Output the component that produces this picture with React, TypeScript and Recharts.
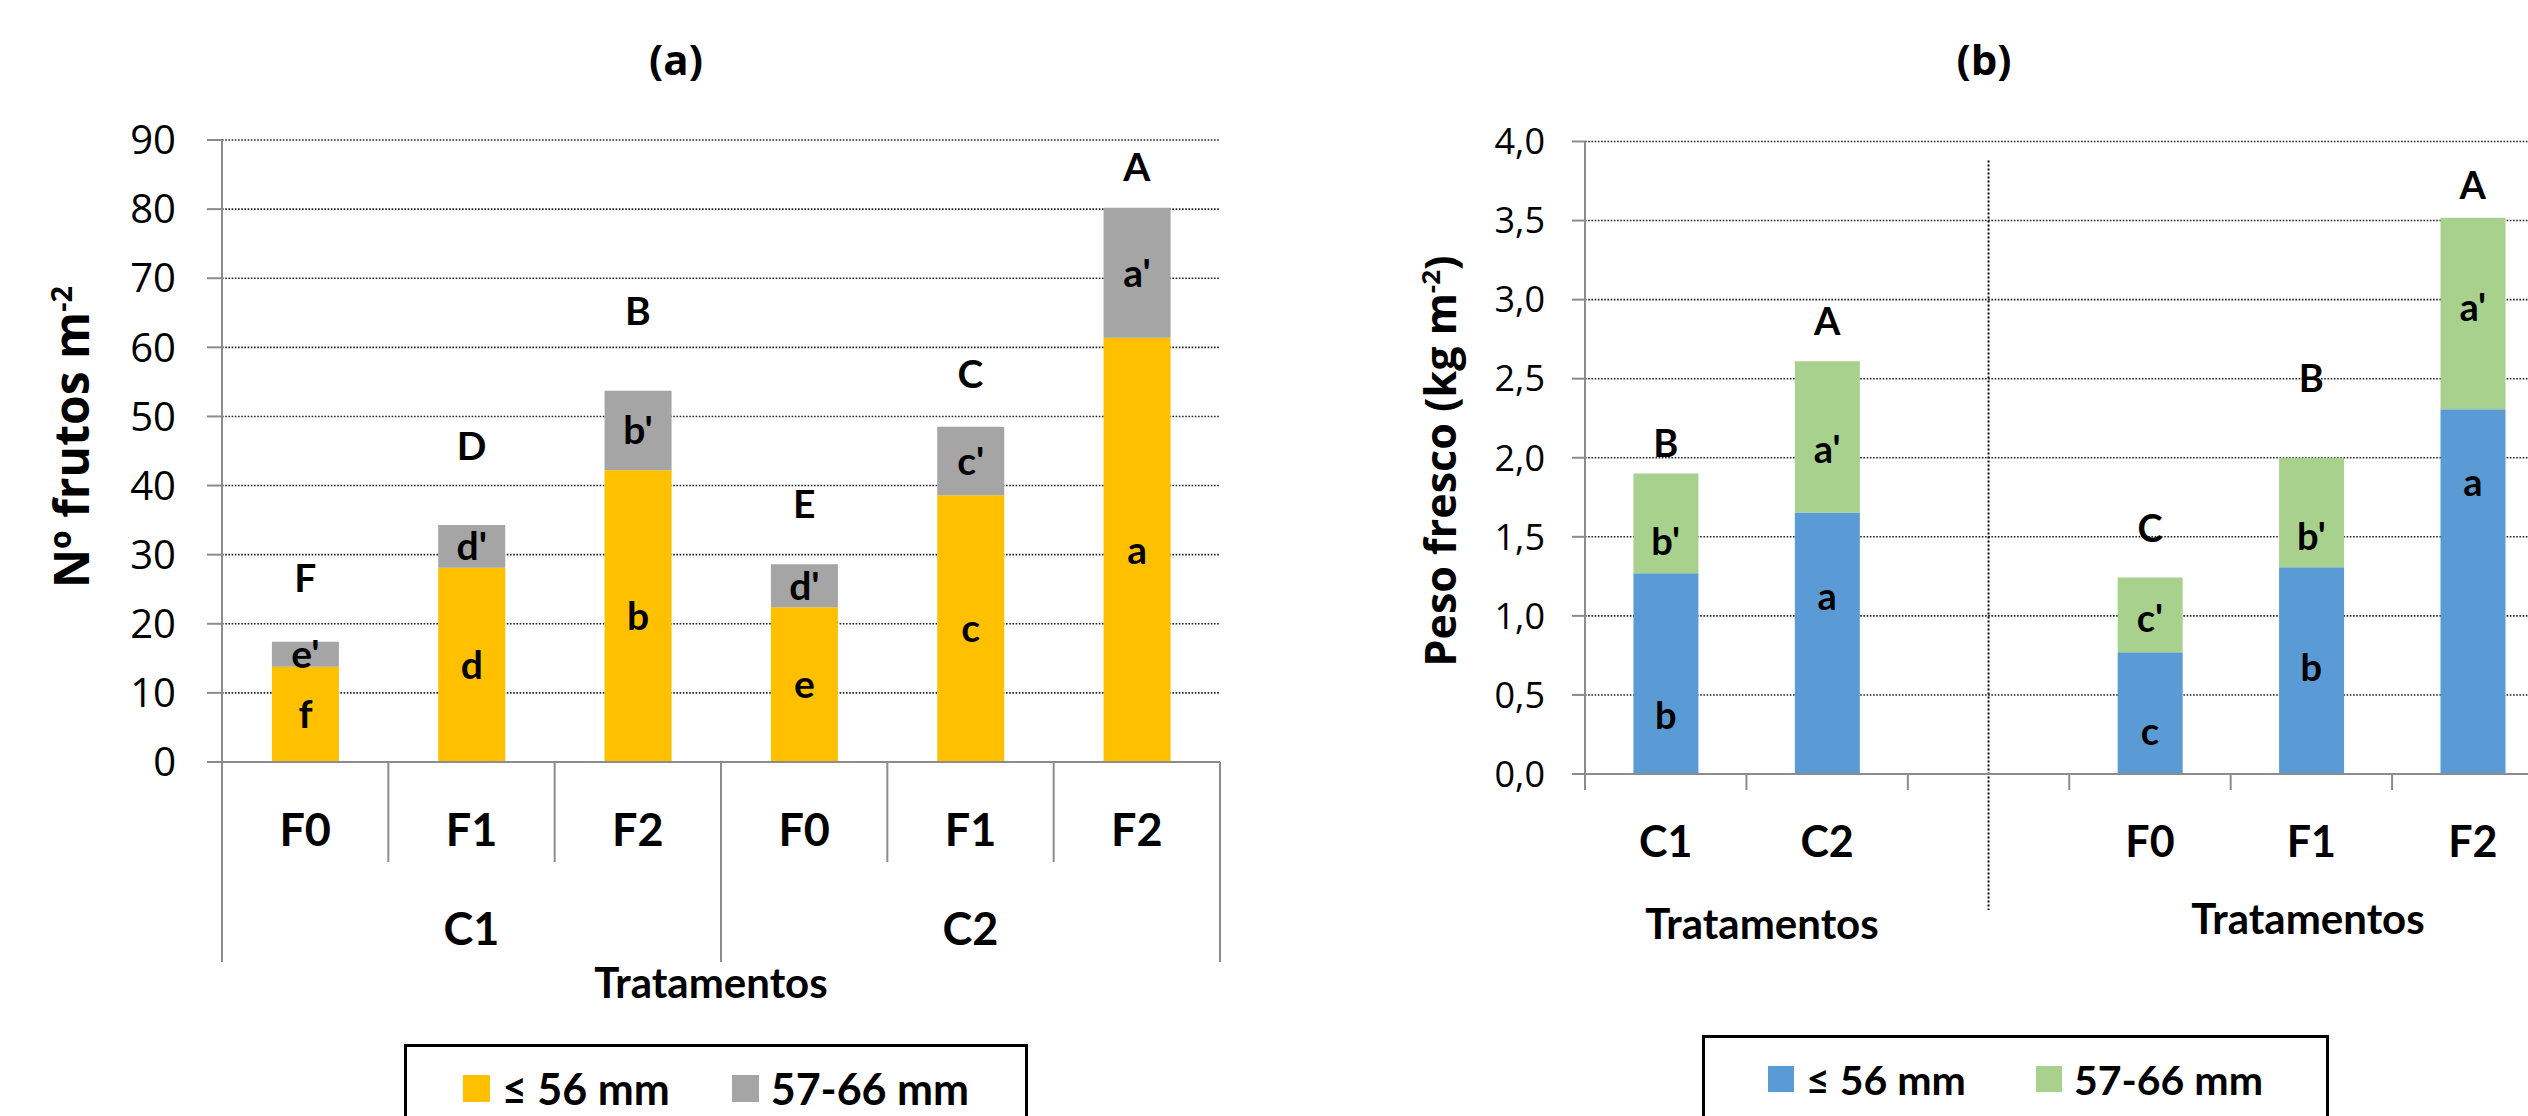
import React from 'react';
import { ComposedChart, Bar, Scatter, XAxis, YAxis, CartesianGrid, LabelList, ReferenceLine } from 'recharts';

// (a) Nº frutos por m2
const tratA = ['F0', 'F1', 'F2', 'F0', 'F1', 'F2'];
const grupoA = ['C1', 'C1', 'C1', 'C2', 'C2', 'C2'];
const ate56A = [13.8, 28.1, 42.2, 22.4, 38.6, 61.4];
const de57a66A = [3.6, 6.2, 11.5, 6.2, 9.9, 18.8];
const letraAte56A = ['f', 'd', 'b', 'e', 'c', 'a'];
const letra57A = ["e'", "d'", "b'", "d'", "c'", "a'"];
const letraTotalA = ['F', 'D', 'B', 'E', 'C', 'A'];
const letraTotalPosA = [26.8, 45.9, 65.4, 37.5, 56.3, 86.2];
const ticksA = [0, 10, 20, 30, 40, 50, 60, 70, 80, 90];

// (b) Peso fresco (kg m-2)
const tratB = ['C1', 'C2', ' ', 'F0', 'F1', 'F2'];
const ate56B = [1.27, 1.654, null, 0.77, 1.307, 2.306];
const de57a66B = [0.63, 0.956, null, 0.472, 0.693, 1.211];
const letraAte56B = ['b', 'a', null, 'c', 'b', 'a'];
const letraAte56PosB = [0.38, 1.13, null, 0.28, 0.68, 1.85];
const letra57B = ["b'", "a'", null, "c'", "b'", "a'"];
const letra57PosB = [1.48, 2.06, null, 0.99, 1.51, 2.96];
const letraTotalB = ['B', 'A', null, 'C', 'B', 'A'];
const letraTotalPosB = [2.1, 2.87, null, 1.56, 2.51, 3.73];
const ticksB = [0, 0.5, 1, 1.5, 2, 2.5, 3, 3.5, 4];
const divisorB = [3.88, -0.86];

const seriesNames = ['≤ 56 mm', '57-66 mm'];
const coresA = ['#FFC000', '#A5A5A5'];
const coresB = ['#5B9BD5', '#A9D18E'];

const dataA = tratA.map((t, i) => ({
  trat: t,
  grupo: grupoA[i],
  ate56: ate56A[i],
  de57: de57a66A[i],
  lAte56: letraAte56A[i],
  l57: letra57A[i],
  lTot: letraTotalA[i],
  lTotPos: letraTotalPosA[i],
}));

const dataB = tratB.map((t, i) => ({
  trat: t,
  ate56: ate56B[i],
  de57: de57a66B[i],
  lAte56: letraAte56B[i],
  lAte56Pos: letraAte56PosB[i],
  l57: letra57B[i],
  l57Pos: letra57PosB[i],
  lTot: letraTotalB[i],
  lTotPos: letraTotalPosB[i],
}));

const AXIS = '#8c8c8c';
const GRID = '#222';
const CAL = "Lato, 'Open Sans', sans-serif";
const SEG = "'Open Sans', sans-serif";

const letterShape = (key: string, fontFamily: string, fontSize: number) => (p: any) => {
  const txt = p?.payload?.[key];
  if (!txt || !Number.isFinite(p.cx) || !Number.isFinite(p.cy)) return <g />;
  return (
    <text x={p.cx} y={p.cy} textAnchor="middle" dominantBaseline="central"
      fontFamily={fontFamily} fontSize={fontSize} fontWeight={700} fill="#000">
      {txt}
    </text>
  );
};

const TickA = (p: any) => {
  const { x, y, payload, index } = p;
  const half = payload?.offset ?? 83;
  const first = index % 3 === 0;
  return (
    <g>
      <line x1={x - half} x2={x - half} y1={y} y2={y + (first ? 200 : 100)} stroke={AXIS} strokeWidth={2} />
      {index === tratA.length - 1 && (
        <line x1={x + half} x2={x + half} y1={y} y2={y + 200} stroke={AXIS} strokeWidth={2} />
      )}
      <text x={x} y={y + 67} textAnchor="middle" dominantBaseline="central" fontFamily={CAL} fontSize={45} fontWeight={700} fill="#000">
        {payload.value}
      </text>
      {index % 3 === 1 && (
        <text x={x} y={y + 166} textAnchor="middle" dominantBaseline="central" fontFamily={CAL} fontSize={45} fontWeight={700} fill="#000">
          {grupoA[index]}
        </text>
      )}
    </g>
  );
};

const TickB = (p: any) => {
  const { x, y, payload } = p;
  const half = payload?.offset ?? 80;
  return (
    <g>
      <line x1={x - half} x2={x - half} y1={y} y2={y + 16} stroke={AXIS} strokeWidth={2} />
      {String(payload.value).trim() && (
        <text x={x} y={y + 66} textAnchor="middle" dominantBaseline="central" fontFamily={CAL} fontSize={43} fontWeight={700} fill="#000">
          {payload.value}
        </text>
      )}
    </g>
  );
};

const abs = (left: number, top: number, extra: React.CSSProperties = {}): React.CSSProperties => ({
  position: 'absolute', left, top, transform: 'translate(-50%, -50%)', whiteSpace: 'nowrap', ...extra,
});

const LegendBox = ({ left, top, width, cores, fontSize, sq, gap }: any) => (
  <div style={{
    position: 'absolute', left, top, width, height: 120, border: '3px solid #000', boxSizing: 'border-box',
    display: 'flex', justifyContent: 'center', alignItems: 'flex-start', paddingTop: 28, gap,
  }}>
    {seriesNames.map((n, i) => (
      <div key={n} style={{ display: 'flex', alignItems: 'center', height: sq }}>
        <div style={{ width: sq, height: sq, background: cores[i] }} />
        <span style={{ marginLeft: 12, fontFamily: CAL, fontWeight: 700, fontSize, lineHeight: 1 }}>{n}</span>
      </div>
    ))}
  </div>
);

export default function App() {
  return (
    <div style={{ position: 'absolute', left: 0, top: 0, width: 2528, height: 1116, overflow: 'hidden', background: '#fff' }}>
      {/* (a) */}
      <div style={{ position: 'absolute', left: 0, top: 0 }}>
        <ComposedChart width={1264} height={1116} data={dataA} margin={{ top: 140, right: 44, bottom: 0, left: 0 }} barCategoryGap="30%">
          <CartesianGrid vertical={false} stroke={GRID} strokeWidth={1.6} strokeDasharray="1.6 1.6" />
          <XAxis dataKey="trat" interval={0} height={354} tickSize={0} tickMargin={0} tickLine={false}
            axisLine={{ stroke: AXIS, strokeWidth: 2 }} tick={(p: any) => <TickA {...p} />} />
          <YAxis type="number" domain={[0, 90]} ticks={ticksA} width={222} tickSize={15} tickMargin={31}
            tickLine={{ stroke: AXIS, strokeWidth: 2 }} axisLine={{ stroke: AXIS, strokeWidth: 2 }}
            tick={{ fill: '#000', fontSize: 40, fontFamily: SEG }} interval={0} />
          <Bar dataKey="ate56" stackId="s" fill={coresA[0]} isAnimationActive={false}>
            <LabelList dataKey="lAte56" position="center" fill="#000" fontSize={39} fontWeight={700} fontFamily={CAL} />
          </Bar>
          <Bar dataKey="de57" stackId="s" fill={coresA[1]} isAnimationActive={false}>
            <LabelList dataKey="l57" position="center" fill="#000" fontSize={39} fontWeight={700} fontFamily={CAL} />
          </Bar>
          <Scatter dataKey="lTotPos" shape={letterShape('lTot', CAL, 39)} isAnimationActive={false} legendType="none" />
        </ComposedChart>
      </div>
      <div style={abs(676, 58, { fontFamily: SEG, fontWeight: 700, fontSize: 42 })}>(a)</div>
      <div style={abs(70, 437, { fontFamily: SEG, fontWeight: 700, fontSize: 48, transform: 'translate(-50%, -50%) rotate(-90deg)' })}>
        Nº frutos m<sup style={{ fontSize: '0.6em' }}>-2</sup>
      </div>
      <div style={abs(711, 982, { fontFamily: CAL, fontWeight: 700, fontSize: 42 })}>Tratamentos</div>
      <LegendBox left={404} top={1044} width={624} cores={coresA} fontSize={43} sq={27} gap={62} />

      {/* (b) */}
      <div style={{ position: 'absolute', left: 1264, top: 0 }}>
        <ComposedChart width={1320} height={1116} data={dataB} margin={{ top: 141.5, right: 30.5, bottom: 0, left: 0 }} barCategoryGap="30%">
          <CartesianGrid vertical={false} stroke={GRID} strokeWidth={1.6} strokeDasharray="1.6 1.6" />
          <XAxis dataKey="trat" interval={0} height={342} tickSize={0} tickMargin={0} tickLine={false}
            axisLine={{ stroke: AXIS, strokeWidth: 2 }} tick={(p: any) => <TickB {...p} />} />
          <YAxis type="number" domain={[0, 4]} ticks={ticksB} width={321} tickSize={13} tickMargin={27}
            tickLine={{ stroke: AXIS, strokeWidth: 2 }} axisLine={{ stroke: AXIS, strokeWidth: 2 }}
            tickFormatter={(v: number) => v.toFixed(1).replace('.', ',')}
            tick={{ fill: '#000', fontSize: 36, fontFamily: SEG }} interval={0} />
          <Bar dataKey="ate56" stackId="s" fill={coresB[0]} isAnimationActive={false} />
          <Bar dataKey="de57" stackId="s" fill={coresB[1]} isAnimationActive={false} />
          <Scatter dataKey="lAte56Pos" shape={letterShape('lAte56', CAL, 38)} isAnimationActive={false} legendType="none" />
          <Scatter dataKey="l57Pos" shape={letterShape('l57', CAL, 38)} isAnimationActive={false} legendType="none" />
          <Scatter dataKey="lTotPos" shape={letterShape('lTot', CAL, 38)} isAnimationActive={false} legendType="none" />
          <ReferenceLine segment={[{ x: ' ', y: divisorB[0] }, { x: ' ', y: divisorB[1] }]} ifOverflow="visible"
            stroke="#000" strokeWidth={2} strokeDasharray="2 2" />
        </ComposedChart>
      </div>
      <div style={abs(1984, 58, { fontFamily: SEG, fontWeight: 700, fontSize: 42 })}>(b)</div>
      <div style={abs(1439, 461, { fontFamily: SEG, fontWeight: 700, fontSize: 43, transform: 'translate(-50%, -50%) rotate(-90deg)' })}>
        Peso fresco (kg m<sup style={{ fontSize: '0.6em' }}>-2</sup>)
      </div>
      <div style={abs(1762, 923, { fontFamily: CAL, fontWeight: 700, fontSize: 42 })}>Tratamentos</div>
      <div style={abs(2308, 918, { fontFamily: CAL, fontWeight: 700, fontSize: 42 })}>Tratamentos</div>
      <LegendBox left={1702} top={1035} width={627} cores={coresB} fontSize={41} sq={26} gap={70} />
    </div>
  );
}
